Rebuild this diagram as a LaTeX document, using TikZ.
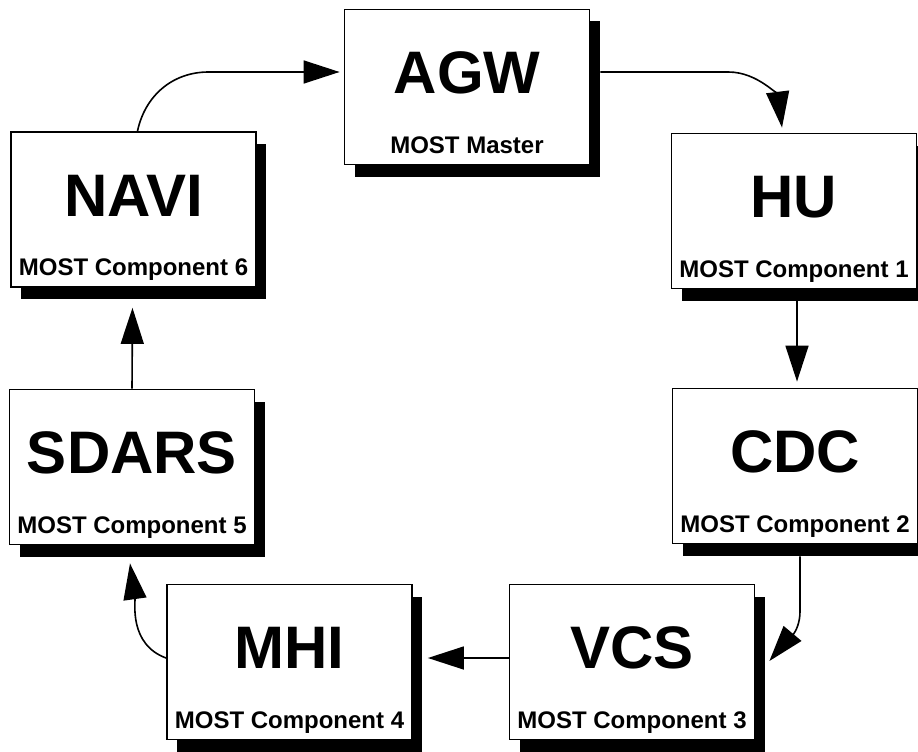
\documentclass[tikz,border=0pt]{standalone}
\usepackage{fontspec}
\setmainfont{Liberation Sans}
\usetikzlibrary{arrows.meta,shadows}

\def\boxw{245pt}
\def\boxh{155pt}

\begin{document}
\begin{tikzpicture}[x=1pt,y=1pt,font=\bfseries]
    \tikzstyle{unit}=[rectangle,draw=black,fill=white,line width=1.8pt,minimum width=\boxw,minimum height=\boxh,inner sep=0pt,
        drop shadow={shadow xshift=10pt,shadow yshift=-12pt,fill=black,opacity=1}]
    \tikzstyle{head}=[font=\fontsize{60}{60}\selectfont\bfseries,inner sep=0pt,anchor=base]
    \tikzstyle{role}=[font=\fontsize{24}{24}\selectfont\bfseries,inner sep=0pt,anchor=base]
    \tikzstyle{link}=[-{Triangle[length=36pt,width=23pt]},line width=1.6pt]

    \useasboundingbox (0,0) rectangle (918,-752);

    % Draw the ring members with their name and role
    \foreach \name/\x/\y/\head/\role in {agw/467/87/AGW/MOST Master,
                                         hu/794/211/HU/MOST Component 1,
                                         cdc/795/466/CDC/MOST Component 2,
                                         vcs/632/662/VCS/MOST Component 3,
                                         mhi/289.5/662/MHI/MOST Component 4,
                                         sdars/132/467/SDARS/MOST Component 5,
                                         navi/133.5/209.5/NAVI/MOST Component 6}
    {
        \node[unit] (\name) at (\x,-\y) {};
        \node[head] (\name-head) at ([yshift=-6.5pt]\name.center) {\head};
        \node[role] (\name-role) at ([yshift=12pt]\name.south) {\role};
    }

    % Connect the ring, clockwise from the master
    \draw[link] ([xshift=10pt,yshift=15pt]agw.east) -- ++(128,0)
        to[out=0,in=97] ([xshift=-12pt,yshift=5pt]hu.north);
    \draw[link] ([xshift=3pt,yshift=-12pt]hu.south) -- ([xshift=2pt,yshift=6pt]cdc.north);
    \draw[link] ([xshift=5pt,yshift=-12pt]cdc.south) -- ++(0,-55)
        to[out=-90,in=50] ([xshift=14pt,yshift=1pt]vcs.east);
    \draw[link] ([yshift=4pt]vcs.west) -- ([xshift=15pt,yshift=4pt]mhi.east);
    \draw[link] ([yshift=4pt]mhi.west) to[out=160,in=-82] ([xshift=-2pt,yshift=-18pt]sdars.south);
    \draw[link] (sdars.north) -- ([xshift=-1pt,yshift=-20pt]navi.south);
    \draw[link] ([xshift=4pt]navi.north) to[out=78,in=180] ([xshift=-135pt,yshift=15pt]agw.west)
        -- ([xshift=-4pt,yshift=15pt]agw.west);
\end{tikzpicture}
\end{document}
